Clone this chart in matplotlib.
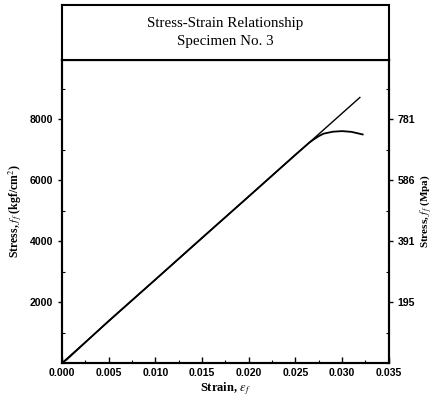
import numpy as np
import matplotlib.pyplot as plt
from matplotlib.ticker import MultipleLocator

plt.rcParams['mathtext.fontset'] = 'stix'

# straight (elastic) line
line_strain = [0.0, 0.0319]
line_stress = [0, 8720]

# measured curve
curve_strain = [0.0, 0.0005, 0.005, 0.010, 0.015, 0.020, 0.025, 0.0265, 0.027,
                0.0275, 0.028, 0.029, 0.030, 0.031, 0.0322]
curve_stress = [0, 110, 1380, 2740, 4110, 5470, 6840, 7240, 7350,
                7450, 7530, 7595, 7615, 7590, 7505]

left_ticks = [2000, 4000, 6000, 8000]
right_labels = ['195', '391', '586', '781']
x_ticks = [0.000, 0.005, 0.010, 0.015, 0.020, 0.025, 0.030, 0.035]

serif = 'Liberation Serif'
sans = 'Liberation Sans'

fig = plt.figure(figsize=(4.33, 4.0), dpi=100)
ax = fig.add_axes([0.143, 0.0925, 0.755, 0.7575])

ax.plot(line_strain, line_stress, color='black', lw=1.0)
ax.plot(curve_strain, curve_stress, color='black', lw=1.3)

ax.set_xlim(0, 0.035)
ax.set_ylim(0, 9950)
ax.set_xticks(x_ticks)
ax.set_xticklabels(['%.3f' % v for v in x_ticks], fontfamily=sans,
                   fontweight='bold', fontsize=7.6)
ax.set_yticks(left_ticks)
ax.set_yticklabels([str(v) for v in left_ticks], fontfamily=sans,
                   fontweight='bold', fontsize=7.6)
ax.xaxis.set_minor_locator(MultipleLocator(0.0025))
ax.yaxis.set_minor_locator(MultipleLocator(1000))
ax.tick_params(axis='x', which='major', direction='in', length=4, width=1)
ax.tick_params(axis='y', which='major', direction='out', length=3, width=1)
ax.tick_params(which='minor', direction='in', length=2, width=0.8)
for s in ax.spines.values():
    s.set_linewidth(1.5)

ax.set_xlabel('Strain, $\\varepsilon_f$', fontfamily=serif, fontweight='bold',
              fontsize=9, labelpad=2)
ax.set_ylabel('Stress, $f_f$ (kgf/cm$^2$)', fontfamily=serif, fontweight='bold',
              fontsize=8.5, labelpad=3)

ax2 = ax.twinx()
ax2.set_ylim(ax.get_ylim())
ax2.set_yticks(left_ticks)
ax2.set_yticklabels(right_labels, fontfamily=sans, fontweight='bold', fontsize=7.6)
ax2.yaxis.set_minor_locator(MultipleLocator(1000))
ax2.tick_params(axis='y', which='major', direction='out', length=3, width=1)
ax2.tick_params(axis='y', which='minor', direction='in', length=2, width=0.8)
ax2.set_ylabel('Stress, $f_f$ (Mpa)', fontfamily=serif, fontweight='bold',
               fontsize=8, labelpad=2)
for s in ax2.spines.values():
    s.set_linewidth(1.5)

# title box
tax = fig.add_axes([0.143, 0.85, 0.755, 0.1375])
tax.set_xticks([])
tax.set_yticks([])
for s in tax.spines.values():
    s.set_linewidth(1.5)
tax.text(0.5, 0.66, 'Stress-Strain Relationship', ha='center', va='center',
         fontfamily=serif, fontsize=10.8, transform=tax.transAxes)
tax.text(0.5, 0.34, 'Specimen No. 3', ha='center', va='center',
         fontfamily=serif, fontsize=10.8, transform=tax.transAxes)

fig.savefig('out.png', dpi=100)
